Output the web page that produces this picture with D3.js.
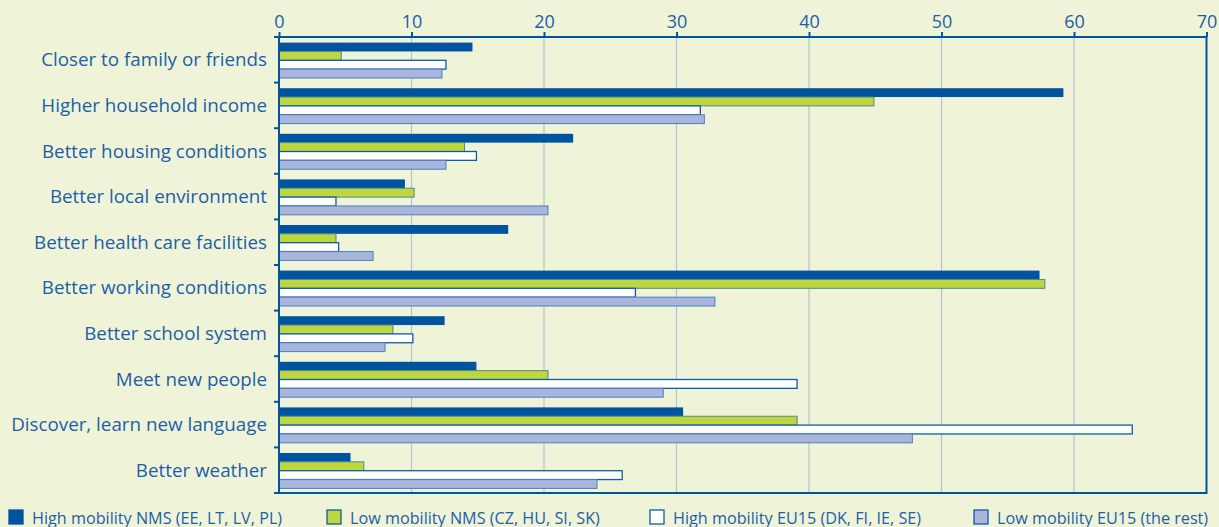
<!DOCTYPE html>
<html>
<head>
<meta charset="utf-8">
<script src="https://cdn.jsdelivr.net/npm/d3@7"></script>
<style>
  html, body { margin: 0; padding: 0; background: #eff4d9; }
  svg { display: block; }
  text { font-family: "Open Sans", "Noto Sans", sans-serif; fill: #1c5ea8; }
</style>
</head>
<body>
<svg id="chart" width="1219" height="527"></svg>
<script>
// Reasons for moving, share of respondents (%) by country group
const categories = [
  "Closer to family or friends",
  "Higher household income",
  "Better housing conditions",
  "Better local environment",
  "Better health care facilities",
  "Better working conditions",
  "Better school system",
  "Meet new people",
  "Discover, learn new language",
  "Better weather"
];

const seriesNames = [
  "High mobility NMS (EE, LT, LV, PL)",
  "Low mobility NMS (CZ, HU, SI, SK)",
  "High mobility EU15 (DK, FI, IE, SE)",
  "Low mobility EU15 (the rest)"
];

const highNMS  = [14.6, 59.2, 22.2, 9.5, 17.3, 57.4, 12.5, 14.9, 30.5, 5.4];
const lowNMS   = [4.7, 44.9, 14.0, 10.2, 4.3, 57.8, 8.6, 20.3, 39.1, 6.4];
const highEU15 = [12.6, 31.8, 14.9, 4.3, 4.5, 26.9, 10.1, 39.1, 64.4, 25.9];
const lowEU15  = [12.3, 32.1, 12.6, 20.3, 7.1, 32.9, 8.0, 29.0, 47.8, 24.0];

const tickValues = [0, 10, 20, 30, 40, 50, 60, 70];

const seriesValues = [highNMS, lowNMS, highEU15, lowEU15];
const seriesStyle = [
  { fill: "#00539f", stroke: "#00539f", sw: 0 },
  { fill: "#bfd63c", stroke: "#4d8a8c", sw: 1 },
  { fill: "#ffffff", stroke: "#0d5ca6", sw: 1.3 },
  { fill: "#a9b5da", stroke: "#4a7fc0", sw: 1 }
];

const svg = d3.select("#chart");
const margin = { top: 37, right: 12, bottom: 34, left: 279 };
const width = 1219 - margin.left - margin.right;
const height = 527 - margin.top - margin.bottom;

const g = svg.append("g").attr("transform", `translate(${margin.left},${margin.top})`);

const x = d3.scaleLinear().domain([0, 70]).range([0, width - 0.5]);
const y = d3.scaleBand().domain(categories).range([0, height]).padding(0);
const ySub = d3.scaleBand().domain(d3.range(4)).range([5.6, y.bandwidth() - 4.6]).padding(0);

// vertical gridlines
g.append("g")
  .selectAll("line")
  .data(tickValues.filter(v => v > 0 && v < 70))
  .join("line")
  .attr("x1", d => x(d)).attr("x2", d => x(d))
  .attr("y1", 0).attr("y2", height)
  .attr("stroke", "#b5c0d6")
  .attr("stroke-width", 1.2);

// bars
const rows = categories.map((c, i) => ({ c, vals: seriesValues.map(s => s[i]) }));
const groups = g.append("g").selectAll("g")
  .data(rows)
  .join("g")
  .attr("transform", d => `translate(0,${y(d.c)})`);

groups.selectAll("rect")
  .data(d => d.vals.map((v, k) => ({ v, k })))
  .join("rect")
  .attr("x", 0)
  .attr("y", d => ySub(d.k))
  .attr("width", d => x(d.v))
  .attr("height", ySub.bandwidth())
  .attr("fill", d => seriesStyle[d.k].fill)
  .attr("stroke", d => seriesStyle[d.k].stroke)
  .attr("stroke-width", d => seriesStyle[d.k].sw);

// frame
g.append("rect")
  .attr("x", 0).attr("y", 0)
  .attr("width", x(70)).attr("height", height)
  .attr("fill", "none")
  .attr("stroke", "#0055a0")
  .attr("stroke-width", 2);

// top axis
const xAxis = g.append("g")
  .call(d3.axisTop(x).tickValues(tickValues).tickSize(5).tickPadding(4).tickFormat(d3.format("d")));
xAxis.select(".domain").remove();
xAxis.selectAll(".tick line").attr("stroke", "#0055a0").attr("stroke-width", 2);
xAxis.selectAll(".tick text")
  .style("font-size", "18px")
  .style("font-family", "'Open Sans', 'Noto Sans', sans-serif")
  .attr("fill", "#1c5ea8");

// category boundary ticks on the left edge
const bounds = categories.map(c => y(c)).concat([height]);
g.append("g").selectAll("line")
  .data(bounds)
  .join("line")
  .attr("x1", -5).attr("x2", 0)
  .attr("y1", d => d).attr("y2", d => d)
  .attr("stroke", "#0055a0")
  .attr("stroke-width", 2);

// category labels
g.append("g").selectAll("text")
  .data(categories)
  .join("text")
  .attr("x", -12)
  .attr("y", d => y(d) + y.bandwidth() / 2 + 6.5)
  .attr("text-anchor", "end")
  .style("font-size", "18.8px")
  .text(d => d);

// legend
const legendX = [9, 327, 650, 974];
const legend = svg.append("g").attr("transform", "translate(0,510)");
const items = legend.selectAll("g")
  .data(seriesNames)
  .join("g")
  .attr("transform", (d, i) => `translate(${legendX[i]},0)`);
items.append("rect")
  .attr("x", 0).attr("y", 0)
  .attr("width", 14).attr("height", 14)
  .attr("fill", (d, i) => seriesStyle[i].fill)
  .attr("stroke", (d, i) => i === 0 ? "#00539f" : "#0d5ca6")
  .attr("stroke-width", 1.3);
items.append("text")
  .attr("x", 23)
  .attr("y", 13.5)
  .style("font-size", "16.2px")
  .text(d => d);
</script>
</body>
</html>
